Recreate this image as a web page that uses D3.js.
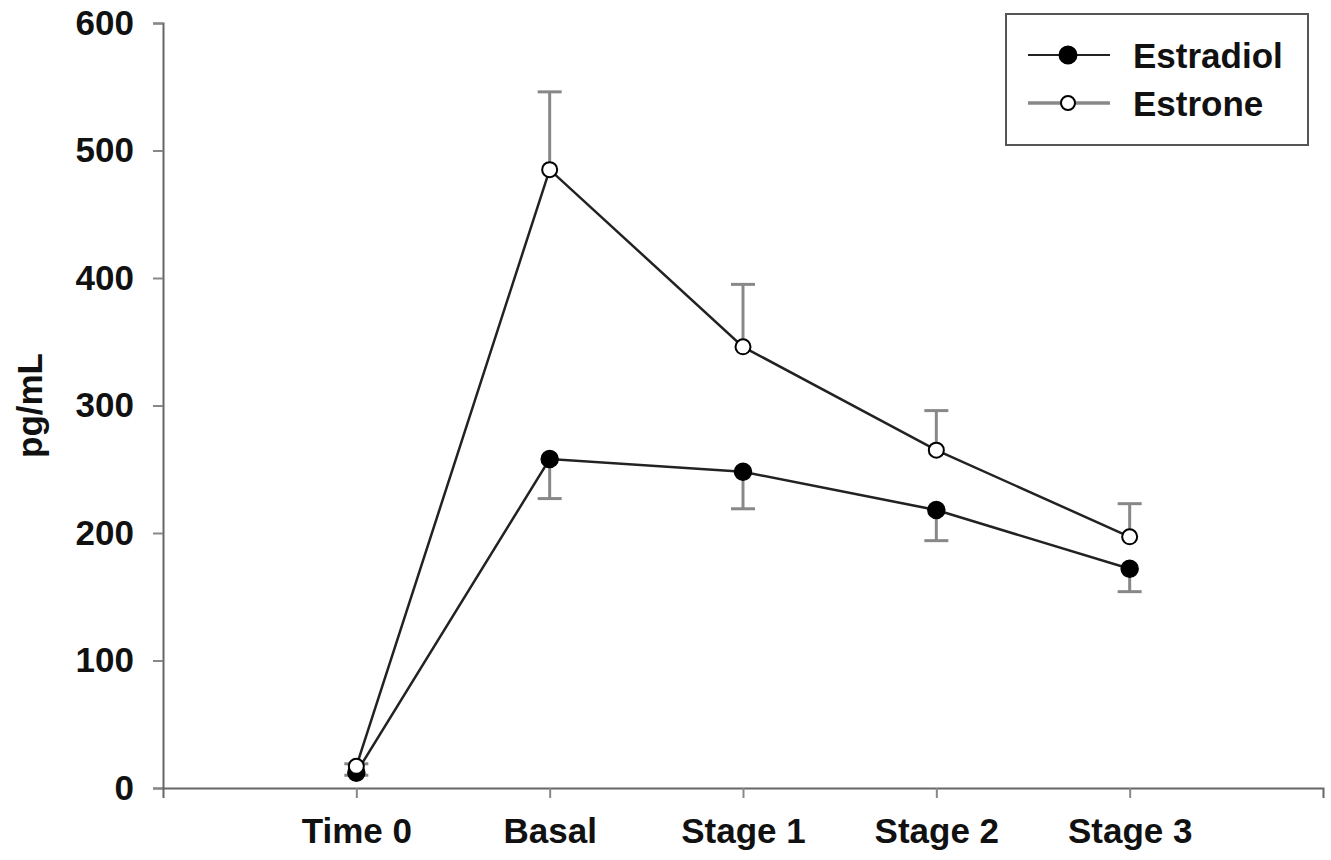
<!DOCTYPE html>
<html>
<head>
<meta charset="utf-8">
<script src="https://cdn.jsdelivr.net/npm/d3@7"></script>
<style>
  body { margin: 0; background: #fff; }
  svg text { font-family: "Liberation Sans", Arial, sans-serif; font-weight: bold; fill: #111; }
</style>
</head>
<body>
<svg id="chart" width="1331" height="860"></svg>
<script>
const categories = ["Time 0", "Basal", "Stage 1", "Stage 2", "Stage 3"]
const estradiol = [12, 258, 248, 218, 172]
const estradiolErr = [2, 31, 29, 24, 18]   // drawn downward
const estrone = [17, 485, 346, 265, 197]
const estroneErr = [2, 61, 49, 31, 26]     // drawn upward
const yTicks = [0, 100, 200, 300, 400, 500, 600]

const svg = d3.select("#chart")
const plotLeft = 163, plotRight = 1323, plotTop = 23, plotBottom = 788
const axisColor = "#666", barColor = "#888", fontSize = "35px"

const x = d3.scaleLinear().domain([0, categories.length + 1]).range([plotLeft, plotRight])
const y = d3.scaleLinear().domain([0, 600]).range([plotBottom, plotTop])

// axes
var yAxis = svg.append("g").attr("transform", `translate(${plotLeft},0)`)
  .call(d3.axisLeft(y).tickValues(yTicks).tickSize(10).tickPadding(19))
var xAxis = svg.append("g").attr("transform", `translate(0,${plotBottom})`)
  .call(d3.axisBottom(x).tickValues(categories.map((d, i) => i + 1))
    .tickFormat((d, i) => categories[i]).tickSize(10).tickPadding(20))
;[yAxis, xAxis].forEach(a => {
  a.select(".domain").attr("stroke", axisColor).attr("stroke-width", 2)
  a.selectAll(".tick line").attr("stroke", barColor).attr("stroke-width", 2)
  a.selectAll("text").style("font-size", fontSize).attr("fill", "#111")
})
svg.append("text")
  .attr("transform", `translate(30,${(plotTop + plotBottom) / 2}) rotate(-90)`)
  .attr("text-anchor", "middle").attr("dy", "0.35em")
  .style("font-size", fontSize).text("pg/mL")

// error bars
function errorBars(vals, errs, dir) {
  var g = svg.append("g")
  vals.forEach((v, i) => {
    var y1 = y(v), y2 = y(v + dir * errs[i]), cx = x(i + 1)
    g.append("line").attr("x1", cx).attr("x2", cx).attr("y1", y1).attr("y2", y2)
      .attr("stroke", barColor).attr("stroke-width", 3)
    g.append("line").attr("x1", cx - 12).attr("x2", cx + 12).attr("y1", y2).attr("y2", y2)
      .attr("stroke", barColor).attr("stroke-width", 3)
  })
}
errorBars(estrone, estroneErr, 1)
errorBars(estradiol, estradiolErr, -1)

const line = d3.line().x((d, i) => x(i + 1)).y(d => y(d))
svg.append("path").datum(estradiol).attr("d", line)
  .attr("fill", "none").attr("stroke", "#222").attr("stroke-width", 2.5)
svg.append("path").datum(estrone).attr("d", line)
  .attr("fill", "none").attr("stroke", "#222").attr("stroke-width", 2.5)

svg.append("g").selectAll("circle").data(estradiol).enter().append("circle")
  .attr("cx", (d, i) => x(i + 1)).attr("cy", d => y(d)).attr("r", 8.5)
  .attr("fill", "#000").attr("stroke", "#000").attr("stroke-width", 1.5)
svg.append("g").selectAll("circle").data(estrone).enter().append("circle")
  .attr("cx", (d, i) => x(i + 1)).attr("cy", d => y(d)).attr("r", 7.5)
  .attr("fill", "#fff").attr("stroke", "#000").attr("stroke-width", 2)

// legend
var legend = svg.append("g").attr("transform", "translate(1006,14)")
legend.append("rect").attr("width", 302).attr("height", 131)
  .attr("fill", "#fff").attr("stroke", "#555").attr("stroke-width", 2)
var items = [
  { name: "Estradiol", lineColor: "#222", lw: 2, fill: "#000", r: 8.5 },
  { name: "Estrone", lineColor: barColor, lw: 3.5, fill: "#fff", r: 7 }
]
items.forEach((d, i) => {
  var row = legend.append("g").attr("transform", `translate(0,${41 + i * 48})`)
  row.append("line").attr("x1", 22).attr("x2", 104).attr("stroke", d.lineColor).attr("stroke-width", d.lw)
  row.append("circle").attr("cx", 62).attr("r", d.r).attr("fill", d.fill)
    .attr("stroke", "#000").attr("stroke-width", 2)
  row.append("text").attr("x", 127).attr("dy", "0.36em").style("font-size", fontSize).text(d.name)
})
</script>
</body>
</html>
